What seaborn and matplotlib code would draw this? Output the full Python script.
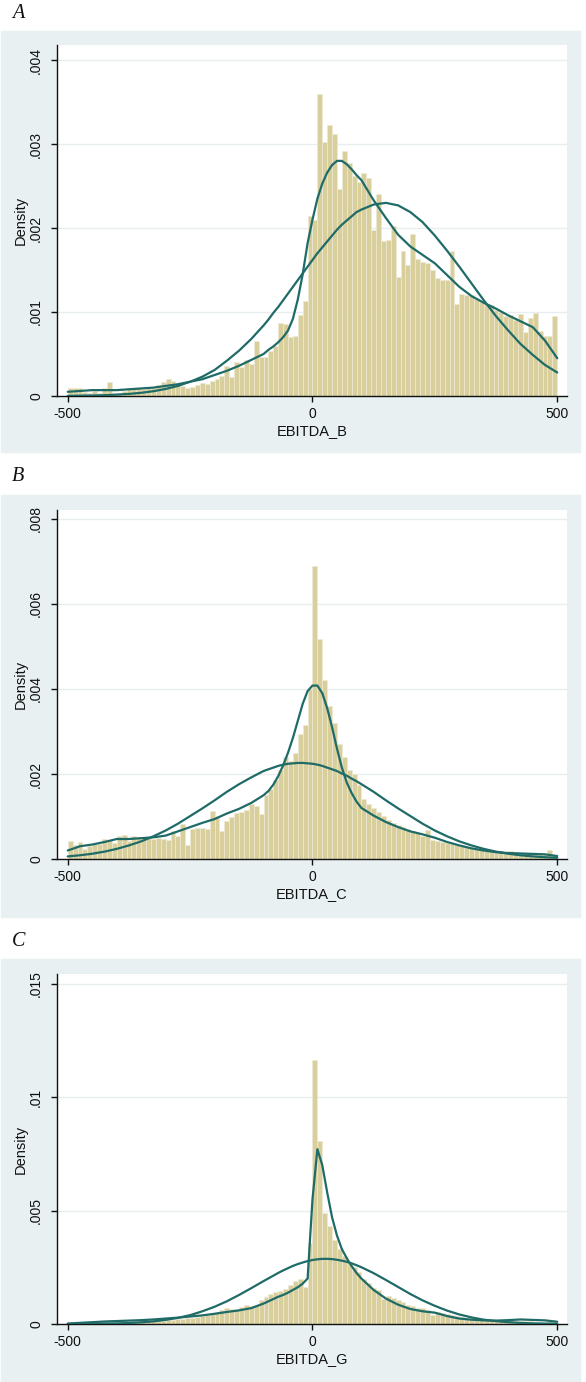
import numpy as np
import pandas as pd
import matplotlib
matplotlib.use("Agg")
import matplotlib.pyplot as plt
from matplotlib.patches import Rectangle
import seaborn as sns

# Histogram bins: width 10 from -500 to 500, bar heights in units of 1e-4
bin_edges = list(range(-500, 510, 10))

hist_b = [1.0, 1.0, 1.0, 0.5, 0.3, 0.6, 0.4, 1.0, 1.7, 0.4,
          0.3, 0.6, 0.9, 0.9, 0.9, 0.8, 0.9, 1.0, 1.3, 1.7,
          2.0, 1.8, 1.4, 1.2, 1.0, 1.1, 1.3, 1.6, 1.4, 1.8,
          2.0, 2.4, 3.6, 2.3, 4.0, 3.4, 4.3, 3.8, 6.5, 4.6,
          4.6, 5.4, 6.0, 8.7, 8.6, 7.0, 7.2, 9.6, 11.3, 21.4,
          21.0, 36.0, 30.2, 32.3, 31.2, 24.7, 29.2, 27.7, 26.2, 25.5,
          26.5, 26.0, 19.8, 24.0, 18.5, 18.6, 20.3, 14.2, 17.3, 15.6,
          19.3, 16.3, 16.0, 15.8, 15.0, 14.0, 13.8, 13.8, 17.3, 11.0,
          12.2, 12.0, 12.0, 11.5, 11.2, 11.0, 10.8, 10.3, 10.0, 9.5,
          9.7, 9.0, 9.8, 7.6, 9.3, 9.9, 7.8, 7.2, 7.2, 9.5]

hist_c = [4.3, 3.3, 4.0, 2.4, 3.0, 3.6, 3.6, 4.7, 4.4, 3.8,
          5.3, 5.6, 4.3, 5.4, 5.2, 5.2, 5.0, 4.6, 5.0, 4.8,
          4.5, 6.5, 5.5, 8.2, 3.4, 7.0, 7.2, 7.4, 7.0, 11.2,
          10.0, 6.5, 9.0, 9.8, 10.8, 11.0, 11.5, 13.0, 12.5, 10.5,
          15.0, 16.5, 18.5, 21.0, 24.0, 23.0, 25.0, 29.5, 31.5, 40.0,
          68.9, 51.8, 42.0, 36.0, 32.0, 27.0, 24.0, 21.0, 20.0, 17.5,
          14.0, 13.0, 12.0, 11.0, 10.0, 9.2, 8.5, 8.0, 7.5, 7.0,
          6.5, 6.0, 5.5, 6.8, 4.5, 4.3, 4.0, 3.8, 3.5, 3.2,
          3.0, 2.8, 2.6, 2.5, 2.3, 2.1, 2.0, 1.9, 1.8, 1.7,
          1.8, 1.7, 1.5, 1.4, 1.3, 1.2, 1.2, 1.1, 2.2, 1.0]

hist_g = [0.2, 0.3, 0.4, 0.5, 0.6, 0.7, 0.9, 1.0, 1.0, 1.0,
          1.1, 1.2, 1.0, 1.3, 1.2, 2.4, 1.2, 1.3, 1.4, 1.5,
          1.6, 1.8, 2.0, 2.2, 2.5, 2.8, 3.2, 3.5, 4.0, 4.5,
          5.5, 6.0, 7.0, 6.5, 6.8, 7.5, 8.5, 8.0, 8.5, 10.5,
          12.0, 13.0, 14.0, 14.5, 15.5, 17.0, 19.0, 20.0, 16.5, 35.5,
          116.5, 80.5, 49.0, 43.0, 37.0, 33.0, 30.0, 27.5, 25.0, 23.0,
          20.0, 18.0, 16.0, 15.0, 11.0, 12.5, 11.5, 10.5, 9.5, 8.5,
          8.0, 7.0, 7.2, 6.0, 4.0, 5.2, 5.0, 4.5, 4.0, 3.5,
          3.0, 2.7, 2.5, 2.2, 2.0, 1.8, 1.6, 1.5, 1.4, 1.3,
          1.6, 1.5, 1.4, 1.3, 1.2, 1.1, 1.0, 0.9, 1.8, 0.8]

# Curve points (x) and densities in units of 1e-3
grid = [-500, -475, -450, -425, -400, -375, -350, -325, -300, -275, -250, -225,
        -200, -175, -150, -125, -100, -90, -80, -70, -60, -50, -40, -30, -20, -10,
        0, 10, 20, 30, 40, 50, 60, 70, 80, 90, 100, 125, 150, 175, 200, 225,
        250, 275, 300, 325, 350, 375, 400, 425, 450, 475, 500]

kern_b = [0.05, 0.06, 0.07, 0.07, 0.07, 0.08, 0.09, 0.10, 0.12, 0.14, 0.17, 0.20,
          0.25, 0.30, 0.36, 0.43, 0.50, 0.55, 0.59, 0.64, 0.70, 0.78, 0.92, 1.15, 1.45, 1.82,
          2.10, 2.35, 2.53, 2.66, 2.75, 2.80, 2.80, 2.76, 2.70, 2.63, 2.57, 2.33, 2.12, 1.92, 1.78, 1.68,
          1.58, 1.44, 1.30, 1.19, 1.11, 1.04, 0.96, 0.89, 0.82, 0.66, 0.45]
norm_b = [0.002, 0.004, 0.006, 0.010, 0.016, 0.025, 0.038, 0.057, 0.084, 0.12, 0.17, 0.23,
          0.31, 0.42, 0.54, 0.68, 0.84, 0.91, 0.99, 1.06, 1.14, 1.22, 1.30, 1.38, 1.46, 1.54,
          1.62, 1.70, 1.77, 1.84, 1.91, 1.98, 2.04, 2.09, 2.14, 2.19, 2.22, 2.28, 2.30, 2.27, 2.19, 2.07,
          1.91, 1.73, 1.54, 1.34, 1.14, 0.95, 0.78, 0.62, 0.49, 0.37, 0.28]

kern_c = [0.20, 0.30, 0.34, 0.40, 0.47, 0.47, 0.49, 0.51, 0.55, 0.65, 0.75, 0.85,
          0.94, 1.07, 1.18, 1.32, 1.50, 1.60, 1.75, 1.95, 2.20, 2.50, 2.85, 3.25, 3.65, 3.95,
          4.08, 4.08, 3.90, 3.55, 3.10, 2.60, 2.15, 1.80, 1.55, 1.35, 1.20, 1.02, 0.87, 0.75, 0.65, 0.58,
          0.50, 0.40, 0.32, 0.25, 0.20, 0.16, 0.14, 0.13, 0.12, 0.11, 0.07]
norm_c = [0.061, 0.088, 0.124, 0.173, 0.238, 0.319, 0.415, 0.534, 0.67, 0.83, 1.01, 1.19,
          1.38, 1.58, 1.76, 1.92, 2.07, 2.11, 2.15, 2.19, 2.22, 2.24, 2.25, 2.26, 2.26, 2.25,
          2.24, 2.22, 2.19, 2.15, 2.11, 2.07, 2.01, 1.96, 1.89, 1.83, 1.76, 1.58, 1.38, 1.19, 1.01, 0.83,
          0.67, 0.534, 0.415, 0.319, 0.238, 0.173, 0.124, 0.088, 0.061, 0.041, 0.027]

kern_g = [0.02, 0.05, 0.08, 0.11, 0.13, 0.15, 0.17, 0.20, 0.24, 0.28, 0.33, 0.38,
          0.45, 0.53, 0.60, 0.70, 0.90, 1.00, 1.10, 1.20, 1.28, 1.38, 1.50, 1.62, 1.78, 2.00,
          5.50, 7.70, 7.00, 5.80, 4.70, 3.90, 3.30, 2.90, 2.55, 2.25, 2.00, 1.50, 1.12, 0.85, 0.66, 0.56,
          0.50, 0.35, 0.24, 0.19, 0.16, 0.15, 0.17, 0.20, 0.18, 0.16, 0.10]
norm_g = [0.002, 0.004, 0.008, 0.015, 0.026, 0.044, 0.072, 0.116, 0.18, 0.27, 0.39, 0.56,
          0.76, 1.00, 1.28, 1.58, 1.89, 2.01, 2.13, 2.25, 2.36, 2.46, 2.56, 2.64, 2.71, 2.77,
          2.82, 2.85, 2.87, 2.87, 2.86, 2.83, 2.79, 2.74, 2.67, 2.59, 2.50, 2.24, 1.94, 1.63, 1.32, 1.04,
          0.80, 0.59, 0.42, 0.29, 0.19, 0.126, 0.079, 0.048, 0.028, 0.016, 0.009]

panels = [
    ("A", "EBITDA_B", hist_b, kern_b, norm_b, [0, .001, .002, .003, .004],
     ["0", ".001", ".002", ".003", ".004"], 0.00418, 31, 45, 396, 452),
    ("B", "EBITDA_C", hist_c, kern_c, norm_c, [0, .002, .004, .006, .008],
     ["0", ".002", ".004", ".006", ".008"], 0.00821, 495, 510, 859, 917),
    ("C", "EBITDA_G", hist_g, kern_g, norm_g, [0, .005, .01, .015],
     ["0", ".005", ".01", ".015"], 0.01542, 959, 974, 1324, 1382),
]

bg = "#E8F0F2"
bar_col = "#D8CF9D"
line_col = "#1F6B67"
ink = "#111111"

W, H = 586, 1382
sns.set_theme(style="white")
plt.rcParams["font.family"] = ["Liberation Sans", "DejaVu Sans"]
plt.rcParams["text.color"] = ink
plt.rcParams["axes.labelcolor"] = ink
plt.rcParams["xtick.color"] = ink
plt.rcParams["ytick.color"] = ink

fig = plt.figure(figsize=(W / 100, H / 100), dpi=100)

centers = [e + 5 for e in bin_edges[:-1]]

for letter, xlab, hist, kern, norm, yt, ytl, ytop, g0, a0, a1, g1 in panels:
    # grey graph region behind each panel
    fig.patches.append(Rectangle((1 / W, 1 - g1 / H), 579 / W, (g1 - g0) / H,
                                 transform=fig.transFigure, color=bg, zorder=-10))
    fig.text(12 / W, 1 - (g0 - 18) / H, letter, family="Liberation Serif",
             style="italic", fontsize=14.5, va="center", ha="left", color=ink)

    ax = fig.add_axes([57 / W, 1 - a1 / H, 510 / W, (a1 - a0) / H])
    ax.set_facecolor("white")

    sns.histplot(x=centers, weights=[h * 1e-4 for h in hist], bins=bin_edges, ax=ax,
                 color=bar_col, alpha=1, edgecolor="#EEEAD3", linewidth=0.5, zorder=2)
    sns.lineplot(x=grid, y=[v * 1e-3 for v in kern], ax=ax, color=line_col, lw=1.6, zorder=3)
    sns.lineplot(x=grid, y=[v * 1e-3 for v in norm], ax=ax, color=line_col, lw=1.6, zorder=3)

    ax.set_xlim(-522, 520)
    ax.set_ylim(0, ytop)
    ax.set_xticks([-500, 0, 500])
    ax.set_xticklabels(["-500", "0", "500"], fontsize=10)
    ax.set_yticks(yt)
    ax.set_yticklabels(ytl, fontsize=10, rotation=90, va="center")
    ax.yaxis.grid(True, color="#E8EEEF", lw=1)
    ax.set_axisbelow(True)
    ax.tick_params(axis="both", direction="out", length=4, width=1, color=ink,
                   bottom=True, left=True)
    ax.tick_params(axis="y", pad=6)
    ax.tick_params(axis="x", pad=4)
    for s in ["top", "right"]:
        ax.spines[s].set_visible(False)
    for s in ["left", "bottom"]:
        ax.spines[s].set_color(ink)
        ax.spines[s].set_linewidth(1)
    ax.set_xlabel(xlab, fontsize=10.5, labelpad=2)
    ax.set_ylabel("Density", fontsize=10.5, labelpad=1)

fig.savefig("out.png", dpi=100, facecolor="white")
